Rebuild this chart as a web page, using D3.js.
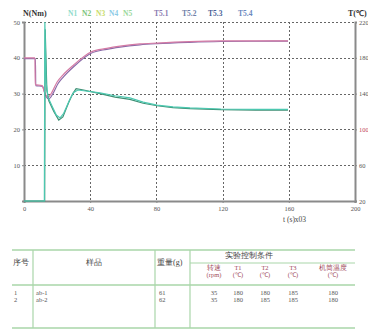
<!DOCTYPE html>
<html>
<head>
<meta charset="utf-8">
<script src="https://cdn.jsdelivr.net/npm/d3@7"></script>
<style>
  body { margin: 0; background: #fff; }
  text { font-family: "Liberation Serif", serif; }
</style>
</head>
<body>
<div id="chart"></div>
<script>
// data
const xTicks = [0, 40, 80, 120, 160, 200];
const nTicks = [10, 20, 30, 40, 50];
const tTicks = [20, 60, 100, 140, 180, 220];

const torque1 = [[0, 0], [12.3, 0], [12.6, 50], [13.4, 33], [14.5, 29], [17, 26.5], [19.5, 24], [21.8, 23.2], [24, 24.5], [27.8, 28.5], [30, 30.3], [32.6, 31], [36, 30.8], [45.9, 30.2], [55, 29.4], [64, 28.8], [72, 27.6], [80.4, 26.8], [90, 26.3], [100.3, 26], [119, 25.7], [140, 25.6], [159.5, 25.6]];
const torque2 = [[0, 0], [12.5, 0], [12.8, 48], [13.8, 31], [15, 28], [18, 25], [21, 22.6], [23.5, 23.5], [27, 27.5], [29.5, 30], [31.5, 31.4], [36, 31], [45.9, 30], [55, 29], [64, 28.4], [72, 27.3], [80.4, 26.6], [90, 26.1], [100.3, 25.8], [119, 25.5], [140, 25.4], [159.5, 25.4]];
const temp1 = [[0, 180], [6.6, 180], [6.8, 150], [10.9, 149], [12.5, 141], [14.5, 136], [17, 142], [20, 153], [23.6, 161], [30, 172], [40.5, 186.5], [50, 190.5], [58, 193], [70, 195.5], [80.4, 196.5], [100, 198], [119, 198.8], [140, 199], [159.5, 199]];
const temp2 = [[0, 179], [6.9, 179], [7.1, 149], [11.2, 148], [12.8, 139], [14.8, 134], [17.5, 140], [20.5, 151], [24, 159], [30, 170], [40.5, 185], [50, 189.5], [58, 192], [70, 194.5], [80.4, 195.8], [100, 197.3], [119, 198.2], [140, 198.5], [159.5, 198.6]];

const nLegend = ["N1", "N2", "N3", "N4", "N5"];
const nLegendColors = ["#8fdccb", "#7cc47a", "#c9dc6a", "#8ccbe6", "#9ad89a"];
const tLegend = ["T5.1", "T5.2", "T5.3", "T5.4"];
const tLegendColors = ["#8a7ab0", "#6f7fa8", "#4a5f98", "#6a88c0"];

const tableHead = ["序号", "样品", "重量(g)", "实验控制条件"];
const subHead = [["转速", "(rpm)"], ["T1", "(℃)"], ["T2", "(℃)"], ["T3", "(℃)"], ["机筒温度", "(℃)"]];
const rows = [
  ["1", "ab-1", "61", "35", "180", "180", "185", "180"],
  ["2", "ab-2", "62", "35", "180", "185", "185", "180"]
];

const width = 368, height = 330;
const svg = d3.select("#chart").append("svg")
  .attr("width", width)
  .attr("height", height);

const x = d3.scaleLinear().domain([0, 200]).range([24, 355]);
const yN = d3.scaleLinear().domain([0, 50]).range([201, 22]);
const yT = d3.scaleLinear().domain([20, 220]).range([201, 22]);

// grid (snapped to whole pixels so the dashes stay sharp)
const snap = v => Math.round(v) + 0.5;

svg.append("g")
  .selectAll("line")
  .data(nTicks)
  .enter()
  .append("line")
  .attr("x1", x(0)).attr("x2", x(200))
  .attr("y1", d => snap(yN(d))).attr("y2", d => snap(yN(d)))
  .attr("stroke", "#666")
  .attr("stroke-width", 1)
  .attr("stroke-dasharray", "2,2")

svg.append("g")
  .selectAll("line")
  .data(xTicks.slice(1, -1))
  .enter()
  .append("line")
  .attr("x1", d => snap(x(d))).attr("x2", d => snap(x(d)))
  .attr("y1", yN(50)).attr("y2", yN(0))
  .attr("stroke", "#666")
  .attr("stroke-width", 1)
  .attr("stroke-dasharray", "2,2")

// axes
let axisN = d3.axisLeft(yN).tickValues(nTicks).tickSize(2).tickPadding(2);
let gN = svg.append("g").attr("transform", "translate(24,0)").call(axisN);
let axisT = d3.axisRight(yT).tickValues(tTicks).tickSize(2).tickPadding(2);
let gT = svg.append("g").attr("transform", "translate(355,0)").call(axisT);
let axisX = d3.axisBottom(x).tickValues(xTicks).tickSize(2).tickPadding(3);
let gX = svg.append("g").attr("transform", "translate(0,201)").call(axisX);

[gN, gT, gX].forEach(g => {
  g.select(".domain").attr("stroke", "#8a8a8a").attr("stroke-width", 2);
  g.selectAll(".tick line").attr("stroke", "#8a8a8a");
  g.selectAll("text").style("font-size", "6.5px").attr("fill", "#555");
});
gT.selectAll("text").filter(d => d === 100).attr("fill", "#c04060");

// lines
const lineN = d3.line().x(d => x(d[0])).y(d => yN(d[1]));
const lineT = d3.line().curve(d3.curveMonotoneX).x(d => x(d[0])).y(d => yT(d[1]));

svg.append("path").datum(temp2).attr("d", lineT)
  .attr("stroke", "#8a6aa8").attr("fill", "none").attr("stroke-width", 1.2)
svg.append("path").datum(temp1).attr("d", lineT)
  .attr("stroke", "#d47aa4").attr("fill", "none").attr("stroke-width", 1.2)
svg.append("path").datum(torque2).attr("d", lineN)
  .attr("stroke", "#3e8f74").attr("fill", "none").attr("stroke-width", 1.2)
svg.append("path").datum(torque1).attr("d", lineN)
  .attr("stroke", "#4cc8b0").attr("fill", "none").attr("stroke-width", 1.2)

// legend
svg.append("text").attr("x", 23).attr("y", 16).text("N(Nm)")
  .style("font-size", "8px").style("font-weight", "bold").attr("fill", "#333")
const nX = [68, 82, 96, 109, 123];
nLegend.forEach((s, i) => {
  svg.append("text").attr("x", nX[i]).attr("y", 16).text(s)
    .style("font-size", "7.5px").style("font-weight", "bold").attr("fill", nLegendColors[i])
});
const tX = [154, 182, 208, 238];
tLegend.forEach((s, i) => {
  svg.append("text").attr("x", tX[i]).attr("y", 16).text(s)
    .style("font-size", "7.5px").style("font-weight", "bold").attr("fill", tLegendColors[i])
});
svg.append("text").attr("x", 348).attr("y", 16).text("T(℃)")
  .style("font-size", "8px").style("font-weight", "bold").attr("fill", "#333")

svg.append("text").attr("x", 283).attr("y", 222).text("t (s)x03")
  .style("font-size", "7.5px").attr("fill", "#444")

// table
const tableLine = "#a9d6a9";
const tLeft = 12, tRight = 355;
[250, 285, 328].forEach(y => {
  svg.append("line").attr("x1", tLeft).attr("x2", tRight).attr("y1", y).attr("y2", y)
    .attr("stroke", tableLine).attr("stroke-width", 1.5)
});
svg.append("line").attr("x1", 190).attr("x2", tRight).attr("y1", 263).attr("y2", 263)
  .attr("stroke", tableLine).attr("stroke-width", 1)
;[33, 155, 190].forEach(xx => {
  svg.append("line").attr("x1", xx).attr("x2", xx).attr("y1", 250).attr("y2", 328)
    .attr("stroke", tableLine).attr("stroke-width", 1.2)
});

const headX = [13, 94, 157, 249];
const headY = [265, 265, 265, 258];
tableHead.forEach((s, i) => {
  svg.append("text").attr("x", headX[i]).attr("y", headY[i]).text(s)
    .style("font-size", "8px").attr("fill", "#444")
    .style("text-anchor", i === 0 || i === 2 ? "start" : "middle")
});
const subX = [214, 238, 265, 293, 333];
subHead.forEach((s, i) => {
  svg.append("text").attr("x", subX[i]).attr("y", 270).text(s[0])
    .style("font-size", "6.5px").attr("fill", "#a04a5a").style("text-anchor", "middle")
  svg.append("text").attr("x", subX[i]).attr("y", 277).text(s[1])
    .style("font-size", "6.5px").attr("fill", "#a04a5a").style("text-anchor", "middle")
});

const colX = [14, 36, 159, 214, 238, 265, 293, 333];
rows.forEach((r, ri) => {
  r.forEach((v, ci) => {
    svg.append("text").attr("x", colX[ci]).attr("y", 295 + ri * 7).text(v)
      .style("font-size", "6.5px").attr("fill", "#555")
      .style("text-anchor", ci >= 3 ? "middle" : "start")
  });
});
</script>
</body>
</html>
